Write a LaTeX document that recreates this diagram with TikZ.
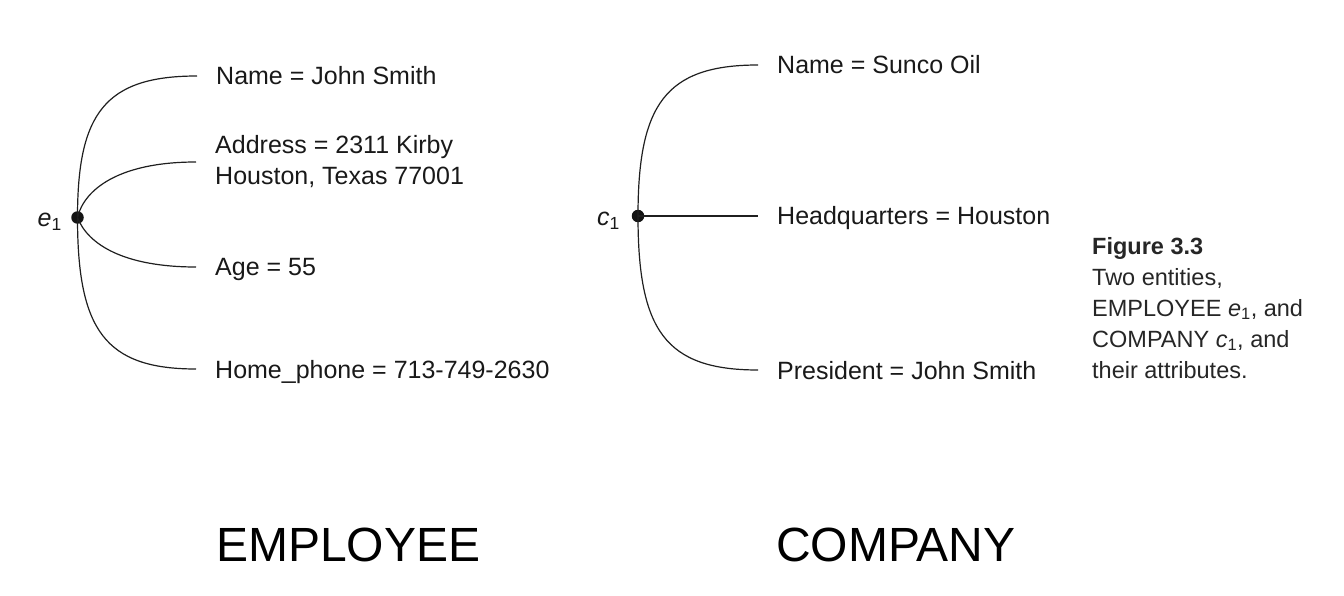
\documentclass[tikz,border=0pt]{standalone}
\usepackage{fontspec}
\setmainfont{Liberation Sans}
\begin{document}
\begin{tikzpicture}[x=1pt,y=-1pt,
  conn/.style={draw=black!88,line width=1.2pt},
  dotn/.style={circle,fill=black!92,inner sep=0pt,minimum size=12.5pt},
  attr/.style={anchor=west,inner xsep=19pt,inner ysep=0pt,text=black!90,
    font=\fontsize{25}{31}\selectfont,text height=18pt,text depth=0pt},
  attrml/.style={anchor=west,inner xsep=19pt,inner ysep=0pt,text=black!90,
    font=\fontsize{25}{31}\selectfont,align=left},
  entlab/.style={anchor=east,inner sep=0pt,text=black!90,font=\fontsize{25}{30}\selectfont},
  big/.style={anchor=west,inner sep=0pt,text=black,font=\fontsize{48}{56}\selectfont},
  capt/.style={anchor=north west,inner sep=0pt,text=black!85,align=left,
    font=\fontsize{23.5}{31}\selectfont}]
\path[use as bounding box] (0,0) rectangle (1344,596);

% EMPLOYEE entity
\node[dotn] (e1) at (77.5,217.5) {};
\node[entlab] (e1l) at (62,222) {\textit{e}\textsubscript{1}};
\node[attr] (a1) at (197,76) {Name = John Smith};
\node[attrml] (a2) at (196,162) {Address = 2311 Kirby\\Houston, Texas 77001};
\node[attr] (a3) at (196,267) {Age = 55};
\node[attr] (a4) at (196,369) {Home\_phone = 713-749-2630};
\draw[conn] (e1.center) .. controls +(0,-103.5) and +(-92.5,0) .. (a1.west);
\draw[conn] (e1.center) .. controls +(6.5,-27.5) and +(-78,0) .. (a2.west);
\draw[conn] (e1.center) .. controls +(10.5,27.5) and +(-71,0) .. (a3.west);
\draw[conn] (e1.center) .. controls +(0,112.5) and +(-91,0) .. (a4.west);

% COMPANY entity
\node[dotn] (c1) at (638,216) {};
\node[entlab] (c1l) at (620,221) {\textit{c}\textsubscript{1}};
\node[attr] (b1) at (758,65) {Name = Sunco Oil};
\node[attr] (b2) at (758,216) {Headquarters = Houston};
\node[attr] (b3) at (758,370) {President = John Smith};
\draw[conn] (c1.center) .. controls +(0,-111) and +(-93,0) .. (b1.west);
\draw[conn] (c1.center) -- (b2.west);
\draw[conn] (c1.center) .. controls +(0,114) and +(-93,0) .. (b3.west);

% caption
\node[capt] (cap) at (1092,237) {\textbf{Figure 3.3}\\Two entities,\\EMPLOYEE \textit{e}\textsubscript{1}, and\\COMPANY \textit{c}\textsubscript{1}, and\\their attributes.};

% big labels
\node[big] (emp) at (216,545) {EMPLOYEE};
\node[big] (comp) at (776,545) {COMPANY};
\end{tikzpicture}
\end{document}
